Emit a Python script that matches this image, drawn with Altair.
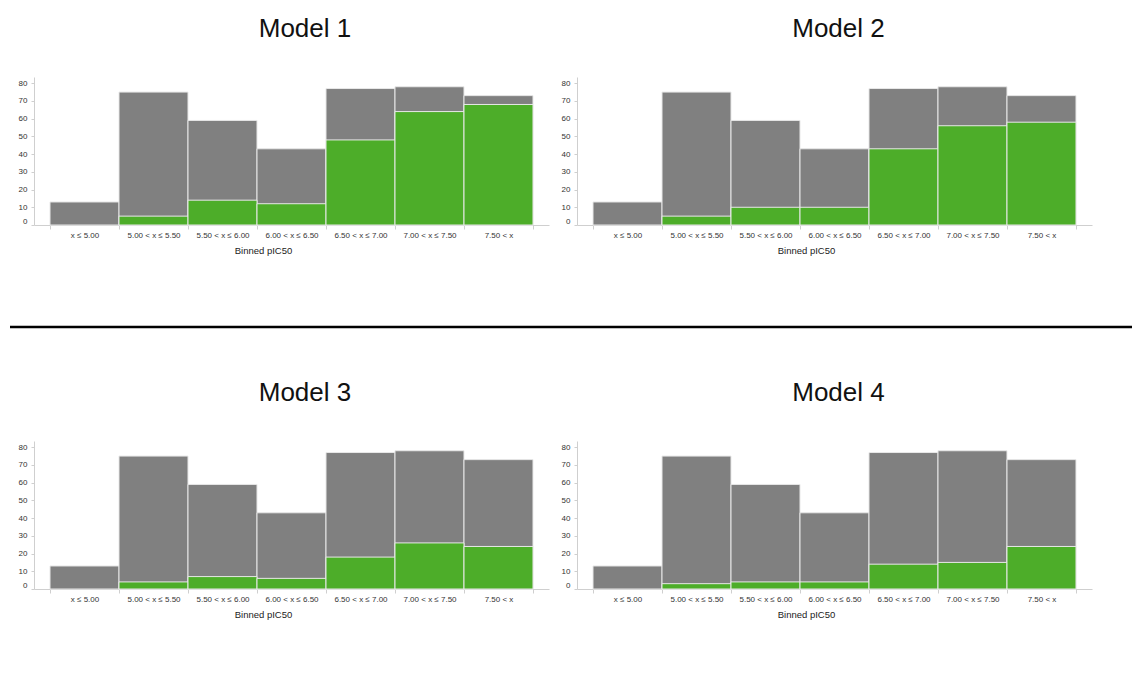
import altair as alt
import pandas as pd

bins = ["x ≤ 5.00", "5.00 < x ≤ 5.50", "5.50 < x ≤ 6.00", "6.00 < x ≤ 6.50",
        "6.50 < x ≤ 7.00", "7.00 < x ≤ 7.50", "7.50 < x"]
totals = [13, 75, 59, 43, 77, 78, 73]
model1 = [0, 5, 14, 12, 48, 64, 68]
model2 = [0, 5, 10, 10, 43, 56, 58]
model3 = [0, 4, 7, 6, 18, 26, 24]
model4 = [0, 3, 4, 4, 14, 15, 24]
titles = ["Model 1", "Model 2", "Model 3", "Model 4"]
y_ticks = [0, 10, 20, 30, 40, 50, 60, 70, 80]

GRAY = "#808080"
GREEN = "#4dad29"
AXIS_C = "#cfcfcf"
FONT = "Liberation Sans"


def panel(title, vals, dx):
    df = pd.DataFrame({"bin": bins, "total": totals, "active": vals})
    x = alt.X("bin:N", sort=bins,
              scale=alt.Scale(paddingInner=0, paddingOuter=0.232),
              axis=alt.Axis(title="Binned pIC50", labelAngle=0, tickBand="extent",
                            labelFontSize=8, labelColor="#333", labelPadding=2,
                            tickSize=4, tickColor=AXIS_C, domainColor=AXIS_C,
                            titleFontSize=9.5, titleFontWeight="normal",
                            titleColor="#222", titlePadding=6, titleX=229))
    yscale = alt.Scale(domain=[0, 83.5], nice=False)
    yaxis = alt.Axis(title=None, values=y_ticks, labelFontSize=8, labelColor="#333",
                     labelPadding=4, tickSize=3, tickColor=AXIS_C, domainColor=AXIS_C,
                     grid=False, labelFlush=True)
    gray = alt.Chart(df).mark_bar(color=GRAY, stroke="#e8e8e8", strokeWidth=1).encode(
        x=x, y=alt.Y("total:Q", scale=yscale, axis=yaxis))
    green = alt.Chart(df).transform_filter("datum.active > 0").mark_bar(
        color=GREEN, stroke="#e8e8e8", strokeWidth=1).encode(
        x=x, y=alt.Y("active:Q", scale=yscale, axis=yaxis))
    return alt.layer(gray, green).properties(
        width=515, height=148,
        title=alt.TitleParams(title, fontSize=26, fontWeight="normal", color="#111",
                              anchor="middle", frame="group", dx=dx, offset=35))


sep = alt.Chart(pd.DataFrame({"a": [0]})).mark_rule(color="black", strokeWidth=2.5).encode(
    x=alt.value(-24), x2=alt.value(1098), y=alt.value(21)).properties(width=1098, height=22)

row1 = alt.hconcat(panel(titles[0], model1, 13.5), panel(titles[1], model2, 4), spacing=12)
row2 = alt.hconcat(panel(titles[2], model3, 13.5), panel(titles[3], model4, 4), spacing=12)

chart = alt.vconcat(row1, sep, row2, spacing=51).properties(
    padding={"left": 0, "top": 8, "right": 0, "bottom": 5}
).configure(font=FONT).configure_view(strokeWidth=0)

chart.save("out.html", embed_options={"renderer": "svg", "actions": False})
